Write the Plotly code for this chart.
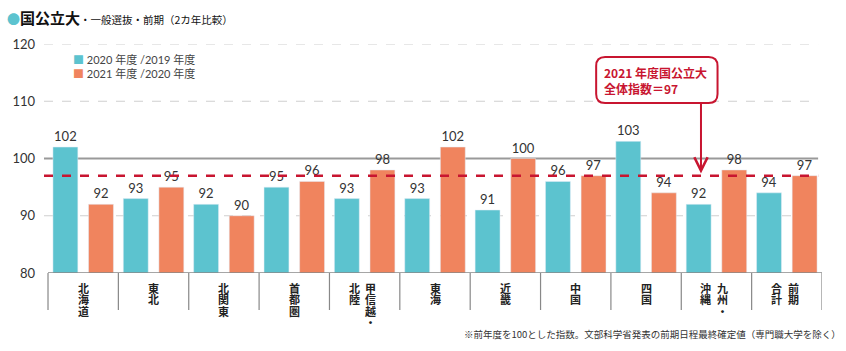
import plotly.graph_objects as go

# ---------------- data ----------------
regions = ["北海道", "東北", "北関東", "首都圏", "甲信越・北陸", "東海", "近畿", "中国", "四国", "九州・沖縄", "前期合計"]
# vertical label columns (right column first, like Japanese vertical writing)
label_cols = [["北海道"], ["東北"], ["北関東"], ["首都圏"], ["甲信越・", "北陸"], ["東海"],
              ["近畿"], ["中国"], ["四国"], ["九州・", "沖縄"], ["前期", "合計"]]
idx_2020 = [102, 93, 92, 95, 93, 93, 91, 96, 103, 92, 94]
idx_2021 = [92, 95, 90, 96, 98, 102, 100, 97, 94, 98, 97]
overall_2021 = 97
series_names = ["2020 年度 /2019 年度", "2021 年度 /2020 年度"]
y_ticks = [80, 90, 100, 110, 120]

BLUE = "#5cc3cf"
ORANGE = "#f0845e"
RED = "#c81530"
FONT = "Lato, Noto Sans CJK JP, sans-serif"
JFONT = "Noto Sans CJK JP, sans-serif"

W, H = 846, 351
L, R, T, B = 40, 24, 44, 78
PW, PH = W - L - R, H - T - B
XMIN, XMAX = -0.557, 10.5

def px2paper(px, py):
    return (px - L) / PW, (H - B - py) / PH

xs = list(range(len(regions)))

fig = go.Figure()
bw = 0.354
fig.add_trace(go.Bar(
    x=xs, y=idx_2020, name=series_names[0], marker_color=BLUE,
    width=bw, offset=-0.43, text=idx_2020, textposition="outside",
    textfont=dict(size=13, color="#333", family=FONT), cliponaxis=False,
))
fig.add_trace(go.Bar(
    x=xs, y=idx_2021, name=series_names[1], marker_color=ORANGE,
    width=bw, offset=0.076, text=idx_2021, textposition="outside",
    textfont=dict(size=13, color="#333", family=FONT), cliponaxis=False,
))

shapes = []
# grid lines
for v in y_ticks:
    if v == 80:
        continue
    if v == 100:
        shapes.append(dict(type="line", xref="paper", yref="y", x0=0, x1=0.995, y0=v, y1=v,
                           line=dict(color="#999", width=2), layer="below"))
    else:
        shapes.append(dict(type="line", xref="paper", yref="y", x0=0, x1=0.995, y0=v, y1=v,
                           line=dict(color="#cfcfcf", width=1, dash="dash"), layer="below"))
# baseline
shapes.append(dict(type="line", xref="x", yref="y", x0=-0.5, x1=XMAX, y0=80, y1=80,
                   line=dict(color="#888", width=1.5)))
# category dividers below axis
for i in range(len(regions) + 1):
    shapes.append(dict(type="line", xref="x", yref="paper", x0=i - 0.5, x1=i - 0.5,
                       y0=0, y1=-37 / PH, line=dict(color="#888", width=1.2)))
# overall dashed line
shapes.append(dict(type="line", xref="paper", yref="y", x0=0, x1=0.995, y0=overall_2021, y1=overall_2021,
                   line=dict(color=RED, width=2.5, dash="dash")))

# rounded callout box
bx0, by0, bx1, by1, rr = 595, 57, 717, 103, 9
def P(px, py):
    a, b = px2paper(px, py)
    return f"{a:.5f},{b:.5f}"
path = (f"M {P(bx0 + rr, by0)} L {P(bx1 - rr, by0)} Q {P(bx1, by0)} {P(bx1, by0 + rr)} "
        f"L {P(bx1, by1 - rr)} Q {P(bx1, by1)} {P(bx1 - rr, by1)} "
        f"L {P(bx0 + rr, by1)} Q {P(bx0, by1)} {P(bx0, by1 - rr)} "
        f"L {P(bx0, by0 + rr)} Q {P(bx0, by0)} {P(bx0 + rr, by0)} Z")
shapes.append(dict(type="path", xref="paper", yref="paper", path=path,
                   line=dict(color=RED, width=2), fillcolor="white"))

annotations = []
# vertical category labels (one text per column; line pitch from small base font)
_, ytop = px2paper(0, 278)
for i, cols in enumerate(label_cols):
    offsets = [0.0] if len(cols) == 1 else [0.09, -0.15]
    for col, off in zip(cols, offsets):
        txt = "<br>".join(f'<span style="font-size:11px"><b>{ch}</b></span>' for ch in col)
        annotations.append(dict(x=i + off, y=ytop, xref="x", yref="paper", text=txt,
                                showarrow=False, xanchor="center", yanchor="top",
                                font=dict(size=8.8, color="#222", family=JFONT)))
# callout text
tx, ty = px2paper(601, 80)
annotations.append(dict(x=tx, y=ty, xref="paper", yref="paper",
                        text=f"<b>2021 年度国公立大<br>全体指数＝{overall_2021}</b>",
                        showarrow=False, xanchor="left", yanchor="middle", align="left",
                        font=dict(size=12, color=RED, family=JFONT)))
# arrow
annotations.append(dict(x=8.78, y=overall_2021 + 0.4, xref="x", yref="y", text="",
                        showarrow=True, arrowhead=5, arrowsize=1.3, arrowwidth=2, arrowcolor=RED,
                        axref="x", ayref="y", ax=8.78, ay=109.8))
# legend (as text)
for k, (nm, col) in enumerate(zip(series_names, [BLUE, ORANGE])):
    lx, ly = px2paper(67, 59 + k * 14.5)
    annotations.append(dict(x=lx, y=ly, xref="paper", yref="paper", xanchor="left", yanchor="middle",
                            showarrow=False,
                            text=f'<span style="color:{col}">■</span> {nm}',
                            font=dict(size=11, color="#444", family=FONT)))
# title
tx, ty = px2paper(1, 17)
annotations.append(dict(x=tx, y=ty, xref="paper", yref="paper", xanchor="left", yanchor="middle",
                        showarrow=False,
                        text=(f'<span style="color:{BLUE};font-size:13px">●</span>'
                              '<b><span style="font-size:15px">国公立大</span></b>'
                              '<span style="font-size:10.5px">・一般選抜・前期（2カ年比較）</span>'),
                        font=dict(size=12, color="#111", family=JFONT)))
# footnote
fx, fy = px2paper(843, 334)
annotations.append(dict(x=fx, y=fy, xref="paper", yref="paper", xanchor="right", yanchor="middle",
                        showarrow=False,
                        text="※前年度を100とした指数。文部科学省発表の前期日程最終確定値（専門職大学を除く）",
                        font=dict(size=9.5, color="#333", family=JFONT)))

fig.update_layout(
    width=W, height=H, margin=dict(l=L, r=R, t=T, b=B),
    paper_bgcolor="white", plot_bgcolor="white",
    barmode="overlay",
    showlegend=False,
    xaxis=dict(range=[XMIN, XMAX], showticklabels=False, showgrid=False, zeroline=False,
               showline=False, ticks="", fixedrange=True),
    yaxis=dict(range=[80, 120], tickvals=y_ticks, showgrid=False, zeroline=False,
               showline=False, ticks="", tickfont=dict(size=13, color="#333", family=FONT),
               ticklabelstandoff=8),
    shapes=shapes, annotations=annotations,
)

fig.write_html("out.html")
